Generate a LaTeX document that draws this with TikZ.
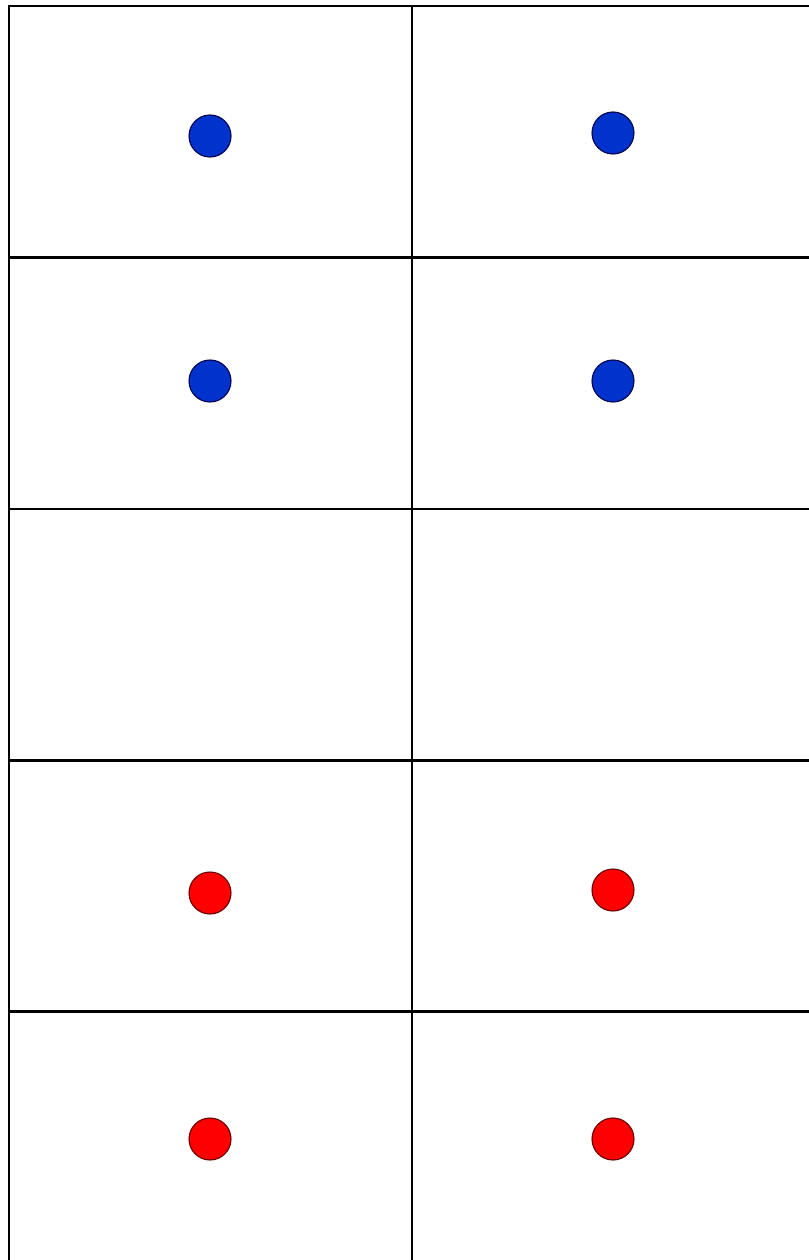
\documentclass[tikz,border=0pt]{standalone}
\begin{document}
\begin{tikzpicture}[
    x=1pt,
    y=-1pt,
    celda/.style={draw, line width=2.6pt},
    azul/.style={circle, draw=black!70!blue, fill=azulpunto, line width=1.1pt, minimum size=42pt, inner sep=0pt},
    rojo/.style={circle, draw=black!60!red, fill=red, line width=1.1pt, minimum size=42pt, inner sep=0pt}
]
\definecolor{azulpunto}{HTML}{0033CC}
\useasboundingbox[fill=white] (0,0) rectangle (808,1260);

% Cuadrícula de 2 columnas y 5 filas
\foreach \fila in {0,...,4}
{
    \draw[celda] (9,6+251.4*\fila) rectangle (412,6+251.4*\fila+251.4);
    \draw[celda] (412,6+251.4*\fila) rectangle (815,6+251.4*\fila+251.4);
}

% Puntos
\node[azul] (a1) at (210,136) {};
\node[azul] (a2) at (613,133) {};
\node[azul] (a3) at (210,381) {};
\node[azul] (a4) at (613,381) {};
\node[rojo] (r1) at (210,893) {};
\node[rojo] (r2) at (613,890) {};
\node[rojo] (r3) at (210,1139) {};
\node[rojo] (r4) at (613,1139) {};

\end{tikzpicture}
\end{document}
